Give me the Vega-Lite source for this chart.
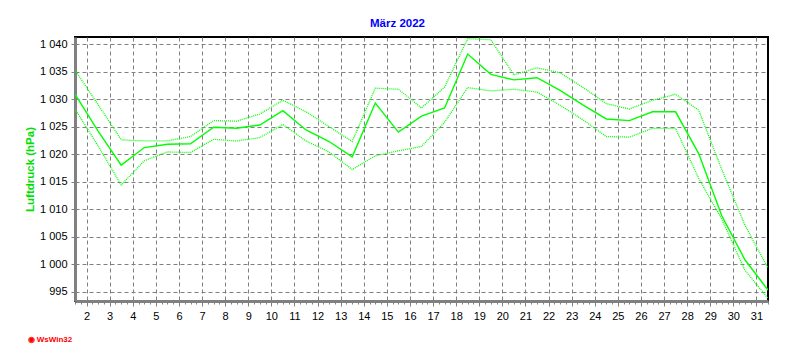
{
  "$schema": "https://vega.github.io/schema/vega-lite/v6.json",
  "autosize": "none",
  "width": 693,
  "height": 264,
  "padding": {"left": 75, "top": 37, "right": 24, "bottom": 49},
  "background": "white",
  "config": {
    "font": "Liberation Sans",
    "view": {"stroke": "black", "strokeWidth": 2},
    "axis": {
      "labelFont": "Liberation Sans",
      "labelFontSize": 11,
      "labelColor": "black",
      "labelOverlap": false,
      "labelFlush": false,
      "domainColor": "#808080",
      "domainWidth": 3,
      "tickColor": "#808080",
      "gridColor": "#808080",
      "gridDash": [4, 3],
      "gridWidth": 1,
      "gridOpacity": 1
    },
    "axisY": {
      "title": "Luftdruck (hPa)",
      "titleColor": "#00E000",
      "titleFont": "Liberation Sans",
      "titleFontSize": 11.5,
      "titleFontWeight": "bold",
      "titlePadding": 4,
      "tickSize": 4,
      "labelPadding": 4,
      "labelOverlap": false,
      "labelSeparation": 0
    }
  },
  "title": {
    "text": "März 2022",
    "color": "#0000FF",
    "font": "Liberation Sans",
    "fontSize": 11.5,
    "fontWeight": "bold",
    "anchor": "middle",
    "dx": -24,
    "offset": 8
  },
  "data": {
    "values": [
      {"d": 1.5, "max": 1035.3, "mean": 1030.9, "min": 1028.2},
      {"d": 2.5, "max": 1029.0, "mean": 1024.2, "min": 1021.5},
      {"d": 3.5, "max": 1022.6, "mean": 1018.0, "min": 1014.4},
      {"d": 4.5, "max": 1022.4, "mean": 1021.2, "min": 1018.8},
      {"d": 5.5, "max": 1022.4, "mean": 1021.8, "min": 1020.4},
      {"d": 6.5, "max": 1023.2, "mean": 1021.9, "min": 1020.3},
      {"d": 7.5, "max": 1026.1, "mean": 1024.9, "min": 1022.7},
      {"d": 8.5, "max": 1026.0, "mean": 1024.7, "min": 1022.4},
      {"d": 9.5, "max": 1027.3, "mean": 1025.3, "min": 1023.0},
      {"d": 10.5, "max": 1029.8, "mean": 1027.9, "min": 1025.4},
      {"d": 11.5, "max": 1027.7, "mean": 1024.4, "min": 1022.4},
      {"d": 12.5, "max": 1025.0, "mean": 1022.3, "min": 1020.4},
      {"d": 13.5, "max": 1022.3, "mean": 1019.5, "min": 1017.2},
      {"d": 14.5, "max": 1032.0, "mean": 1029.3, "min": 1019.7},
      {"d": 15.5, "max": 1031.8, "mean": 1024.0, "min": 1020.6},
      {"d": 16.5, "max": 1028.4, "mean": 1026.9, "min": 1021.4},
      {"d": 17.5, "max": 1032.2, "mean": 1028.4, "min": 1025.8},
      {"d": 18.5, "max": 1041.0, "mean": 1038.2, "min": 1032.1},
      {"d": 19.5, "max": 1040.8, "mean": 1034.5, "min": 1031.5},
      {"d": 20.5, "max": 1034.4, "mean": 1033.5, "min": 1031.8},
      {"d": 21.5, "max": 1035.7, "mean": 1033.9, "min": 1031.3},
      {"d": 22.5, "max": 1034.8, "mean": 1031.6, "min": 1028.9},
      {"d": 23.5, "max": 1032.1, "mean": 1028.9, "min": 1026.2},
      {"d": 24.5, "max": 1029.2, "mean": 1026.4, "min": 1023.2},
      {"d": 25.5, "max": 1028.2, "mean": 1026.1, "min": 1023.1},
      {"d": 26.5, "max": 1029.8, "mean": 1027.7, "min": 1024.7},
      {"d": 27.5, "max": 1030.9, "mean": 1027.7, "min": 1024.7},
      {"d": 28.5, "max": 1028.0, "mean": 1020.1, "min": 1015.6},
      {"d": 29.5, "max": 1017.2, "mean": 1008.8, "min": 1008.2},
      {"d": 30.5, "max": 1007.1, "mean": 1000.8, "min": 998.9},
      {"d": 31.5, "max": 999.3, "mean": 995.3, "min": 993.8}
    ]
  },
  "encoding": {
    "x": {
      "field": "d",
      "type": "quantitative",
      "scale": {"domain": [1.5, 31.5], "nice": false, "zero": false},
      "axis": {
        "title": "◉ WsWin32",
        "titleColor": "#FF0000",
        "titleFont": "Liberation Sans",
        "titleFontSize": 8,
        "titleFontWeight": "bold",
        "titleAnchor": "start",
        "titleAlign": "left",
        "titleX": -48,
        "titleY": 34,
        "values": [1.5, 1.75, 2, 2.25, 2.5, 2.75, 3, 3.25, 3.5, 3.75, 4, 4.25, 4.5, 4.75, 5, 5.25, 5.5, 5.75, 6, 6.25, 6.5, 6.75, 7, 7.25, 7.5, 7.75, 8, 8.25, 8.5, 8.75, 9, 9.25, 9.5, 9.75, 10, 10.25, 10.5, 10.75, 11, 11.25, 11.5, 11.75, 12, 12.25, 12.5, 12.75, 13, 13.25, 13.5, 13.75, 14, 14.25, 14.5, 14.75, 15, 15.25, 15.5, 15.75, 16, 16.25, 16.5, 16.75, 17, 17.25, 17.5, 17.75, 18, 18.25, 18.5, 18.75, 19, 19.25, 19.5, 19.75, 20, 20.25, 20.5, 20.75, 21, 21.25, 21.5, 21.75, 22, 22.25, 22.5, 22.75, 23, 23.25, 23.5, 23.75, 24, 24.25, 24.5, 24.75, 25, 25.25, 25.5, 25.75, 26, 26.25, 26.5, 26.75, 27, 27.25, 27.5, 27.75, 28, 28.25, 28.5, 28.75, 29, 29.25, 29.5, 29.75, 30, 30.25, 30.5, 30.75, 31, 31.25, 31.5],
        "labelExpr": "datum.value % 1 === 0 ? format(datum.value, 'd') : ''",
        "labelPadding": 4,
        "tickSize": {"condition": {"test": "datum.value % 1 === 0", "value": 5}, "value": 3},
        "gridOpacity": {"condition": {"test": "datum.value % 1 === 0", "value": 1}, "value": 0}
      }
    }
  },
  "layer": [
    {
      "mark": {"type": "line", "color": "#00FF00", "strokeWidth": 1.3, "strokeDash": [1, 1], "clip": true},
      "encoding": {
        "y": {
          "field": "max",
          "type": "quantitative",
          "scale": {"domain": [993.3, 1041.3], "nice": false, "zero": false},
          "axis": {
            "title": "Luftdruck (hPa)",
            "values": [995, 1000, 1005, 1010, 1015, 1020, 1025, 1030, 1035, 1040],
            "labelExpr": "datum.value < 1000 ? format(datum.value, 'd') : '1 ' + format(datum.value - 1000, '03d')"
          }
        }
      }
    },
    {
      "mark": {"type": "line", "color": "#00FF00", "strokeWidth": 1.4, "clip": true},
      "encoding": {
        "y": {
          "field": "mean",
          "type": "quantitative",
          "axis": {
            "title": "Luftdruck (hPa)",
            "values": [995, 1000, 1005, 1010, 1015, 1020, 1025, 1030, 1035, 1040],
            "labelExpr": "datum.value < 1000 ? format(datum.value, 'd') : '1 ' + format(datum.value - 1000, '03d')"
          }
        }
      }
    },
    {
      "mark": {"type": "line", "color": "#00FF00", "strokeWidth": 1.3, "strokeDash": [1, 1], "clip": true},
      "encoding": {
        "y": {
          "field": "min",
          "type": "quantitative",
          "axis": {
            "title": "Luftdruck (hPa)",
            "values": [995, 1000, 1005, 1010, 1015, 1020, 1025, 1030, 1035, 1040],
            "labelExpr": "datum.value < 1000 ? format(datum.value, 'd') : '1 ' + format(datum.value - 1000, '03d')"
          }
        }
      }
    }
  ]
}
